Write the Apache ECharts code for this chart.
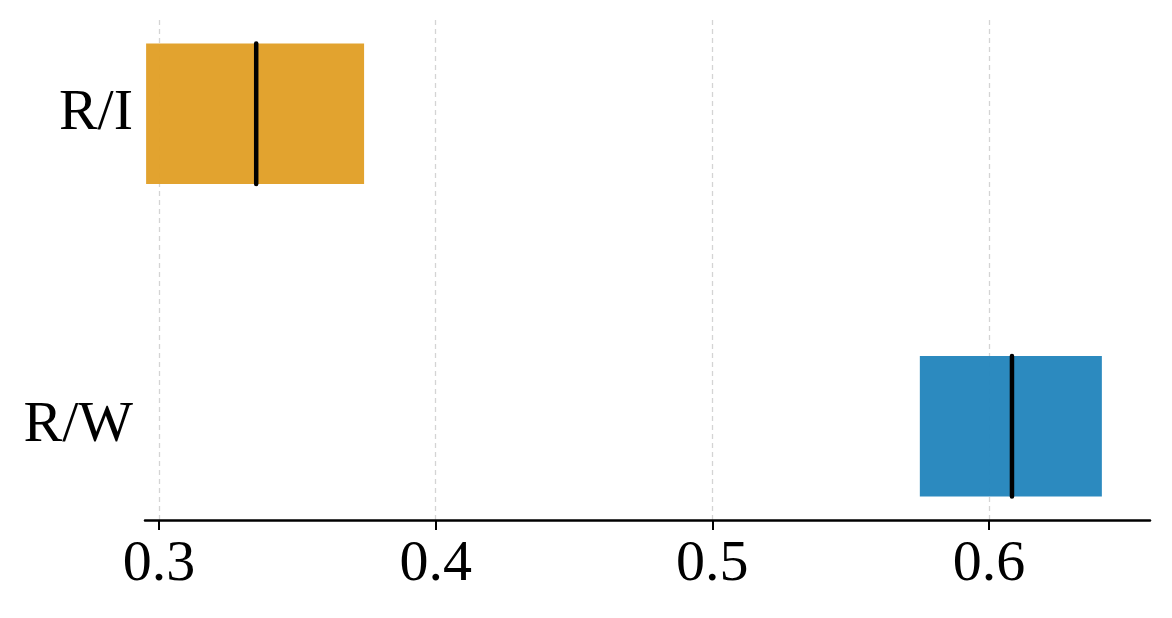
<!DOCTYPE html>
<html lang="en">
<head>
    <meta charset="utf-8" />
    <title>ECharts</title>
    <script src="https://cdn.jsdelivr.net/npm/echarts@6/dist/echarts.min.js"></script>
    <style>
        html, body { margin: 0; padding: 0; background: #fff; }
    </style>
</head>
<body>
<div id="main" style="width: 1172px;height:618px;"></div>
<script type="text/javascript">
    // categories, bottom to top
    var categories = ['R/W', 'R/I'];
    // range of each bar: low, median, high
    var lows = [0.575, 0.2953];
    var medians = [0.6083, 0.3351];
    var highs = [0.6408, 0.3741];
    var barColors = ['#2385bc', '#e19f26'];
    var xTicks = [0.3, 0.4, 0.5, 0.6];
    var barHeight = 0.45;

    var data = categories.map(function (c, i) {
        return [i, lows[i], medians[i], highs[i]];
    });

    var myChart = echarts.init(document.getElementById('main'), null, {renderer: 'canvas'});

    function renderItem(params, api) {
        var y = api.value(0);
        var lo = api.coord([api.value(1), y]);
        var md = api.coord([api.value(2), y]);
        var hi = api.coord([api.value(3), y]);
        var h = api.size([0, barHeight])[1];
        return {
            type: 'group',
            children: [
                {
                    type: 'rect',
                    shape: {x: lo[0], y: lo[1] - h / 2, width: hi[0] - lo[0], height: h},
                    style: {fill: barColors[params.dataIndex], opacity: 0.96}
                },
                {
                    type: 'line',
                    shape: {x1: md[0], y1: md[1] - h / 2, x2: md[0], y2: md[1] + h / 2},
                    style: {stroke: '#000', lineWidth: 4.5, lineCap: 'round'}
                }
            ]
        };
    }

    var font = 'Liberation Serif';

    option = {
        animation: false,
        grid: {left: 145, right: 22, top: 20, bottom: 98},
        xAxis: {
            type: 'value',
            min: 0.2949,
            max: 0.6582,
            axisLine: {show: true, onZero: false, lineStyle: {color: '#000', width: 2.5}},
            axisTick: {show: true, customValues: xTicks, length: 10, lineStyle: {color: '#000', width: 2}},
            axisLabel: {
                customValues: xTicks,
                margin: 16,
                color: '#000',
                fontFamily: font,
                fontSize: 58,
                formatter: function (v) { return v.toFixed(1); }
            },
            splitLine: {show: true, lineStyle: {color: '#d4d4d4', width: 1.3, type: [5, 4]}}
        },
        yAxis: {
            type: 'value',
            min: -0.3,
            max: 1.3,
            axisLine: {show: false},
            axisTick: {show: false},
            splitLine: {show: false},
            axisLabel: {
                customValues: [0, 1],
                margin: 12,
                color: '#000',
                fontFamily: font,
                fontSize: 58,
                formatter: function (v) { return categories[Math.round(v)]; }
            }
        },
        series: [
            {
                type: 'custom',
                renderItem: renderItem,
                encode: {x: [1, 2, 3], y: 0},
                data: data
            }
        ]
    };
    myChart.setOption(option);
</script>
</body>
</html>
